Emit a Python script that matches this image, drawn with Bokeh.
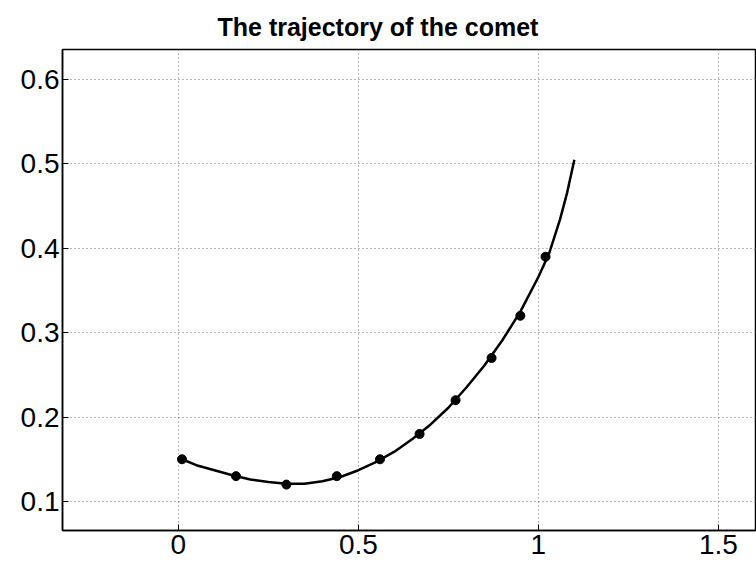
from bokeh.plotting import figure
from bokeh.models import Range1d, FixedTicker, ColumnDataSource
from bokeh.embed import file_html
from bokeh.resources import INLINE

# observed comet positions
obs_x = [1.02, 0.95, 0.87, 0.77, 0.67, 0.56, 0.44, 0.30, 0.16, 0.01]
obs_y = [0.39, 0.32, 0.27, 0.22, 0.18, 0.15, 0.13, 0.12, 0.13, 0.15]

# fitted trajectory
curve_x = [0.01, 0.05, 0.10, 0.15, 0.20, 0.25, 0.30, 0.35, 0.40, 0.45, 0.50,
           0.55, 0.60, 0.65, 0.70, 0.75, 0.80, 0.85, 0.90, 0.95, 1.00, 1.03,
           1.06, 1.08, 1.10]
curve_y = [0.150, 0.143, 0.137, 0.131, 0.126, 0.123, 0.121, 0.121, 0.124, 0.129,
           0.137, 0.147, 0.159, 0.174, 0.191, 0.211, 0.235, 0.261, 0.291, 0.325,
           0.366, 0.394, 0.434, 0.466, 0.505]

x_ticks = [0, 0.5, 1, 1.5]
x_tick_labels = ["0", "0.5", "1", "1.5"]
y_ticks = [0.1, 0.2, 0.3, 0.4, 0.5, 0.6]
y_tick_labels = ["0.1", "0.2", "0.3", "0.4", "0.5", "0.6"]

title_text = "The trajectory of the comet"

p = figure(width=756, height=564, output_backend="svg", toolbar_location=None,
           x_range=Range1d(-0.322, 1.606), y_range=Range1d(0.0656, 0.6355),
           min_border_left=62, min_border_right=0, min_border_top=49,
           min_border_bottom=34, title=title_text)

p.title.text_font = "Liberation Sans"
p.title.text_font_style = "bold"
p.title.text_font_size = "25px"
p.title.text_color = "black"
p.title.align = "left"
p.title.offset = 155
p.title.standoff = 14
p.title.vertical_align = "top"

p.outline_line_color = "black"
p.outline_line_width = 1.5
p.background_fill_color = "white"
p.border_fill_color = "white"

for ax in (p.xaxis[0], p.yaxis[0]):
    ax.major_label_text_font = "Liberation Sans"
    ax.major_label_text_font_size = "28px"
    ax.major_label_text_color = "black"
    ax.axis_line_color = "black"
    ax.axis_line_width = 1.5
    ax.major_tick_in = 6
    ax.major_tick_out = 0
    ax.minor_tick_line_color = None
    ax.major_tick_line_color = "black"

p.xaxis[0].ticker = FixedTicker(ticks=x_ticks)
p.xaxis[0].major_label_overrides = {t: l for t, l in zip(x_ticks, x_tick_labels)}
p.xaxis[0].major_label_standoff = 4
p.yaxis[0].ticker = FixedTicker(ticks=y_ticks)
p.yaxis[0].major_label_overrides = {t: l for t, l in zip(y_ticks, y_tick_labels)}
p.yaxis[0].major_label_standoff = 3

for g in (p.xgrid[0], p.ygrid[0]):
    g.grid_line_color = "#707070"
    g.grid_line_dash = "1 3"
    g.grid_line_width = 1

curve_src = ColumnDataSource(dict(x=curve_x, y=curve_y))
obs_src = ColumnDataSource(dict(x=obs_x, y=obs_y))
p.line("x", "y", source=curve_src, line_color="black", line_width=2.5)
p.scatter("x", "y", source=obs_src, size=9, fill_color="black", line_color="black")

open("out.html", "w").write(file_html(p, INLINE))
